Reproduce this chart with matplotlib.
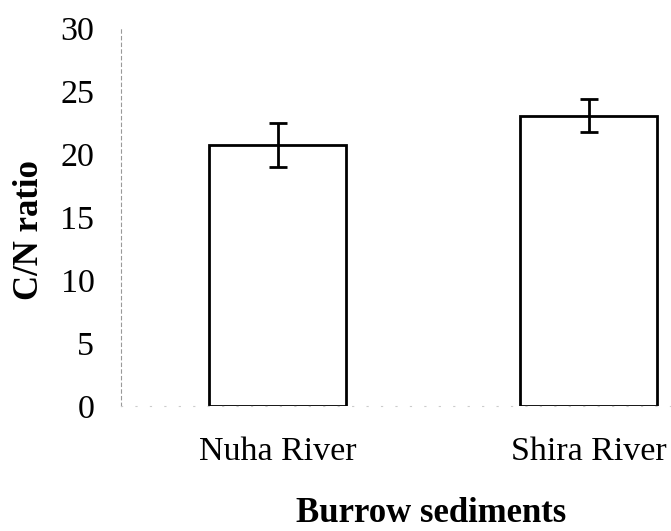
import numpy as np
import matplotlib
matplotlib.use("Agg")
import matplotlib.pyplot as plt

# C/N ratio of burrow sediments
sites = ["Nuha River", "Shira River"]
cn_ratio = [20.75, 23.05]
cn_err = [1.75, 1.33]

plt.rcParams['font.family'] = ['Liberation Serif', 'DejaVu Serif']

fig = plt.figure(figsize=(6.71, 5.31), dpi=100)
ax = fig.add_axes([0.180, 0.235, 0.820, 0.712])

x = np.arange(len(sites))
ax.bar(x, cn_ratio, width=0.44, color="white", edgecolor="black", linewidth=2,
       yerr=cn_err, capsize=6.5, error_kw=dict(elinewidth=2, capthick=2, ecolor="black"))

ax.set_xlim(-0.505, 1.264)
ax.set_ylim(0, 30)
ax.set_yticks(np.arange(0, 31, 5))
ax.set_xticks(x)
ax.set_xticklabels(sites)
ax.tick_params(axis="both", length=0, labelsize=24.5)
ax.tick_params(axis="y", pad=19)
ax.tick_params(axis="x", pad=22)

for side in ["top", "right"]:
    ax.spines[side].set_visible(False)
ax.spines["left"].set_color("#999999")
ax.spines["left"].set_linestyle((0, (3, 3)))
ax.spines["left"].set_linewidth(0.8)
ax.spines["bottom"].set_color("#cccccc")
ax.spines["bottom"].set_linestyle((0, (1, 12)))
ax.spines["bottom"].set_linewidth(0.8)

ax.set_ylabel("C/N ratio", fontsize=25, fontweight="bold")
ax.set_xlabel("Burrow sediments", fontsize=25, fontweight="bold")
ax.yaxis.set_label_coords(-0.136, 0.466)
ax.xaxis.set_label_coords(0.564, -0.24)

fig.savefig("out.png", dpi=100)
